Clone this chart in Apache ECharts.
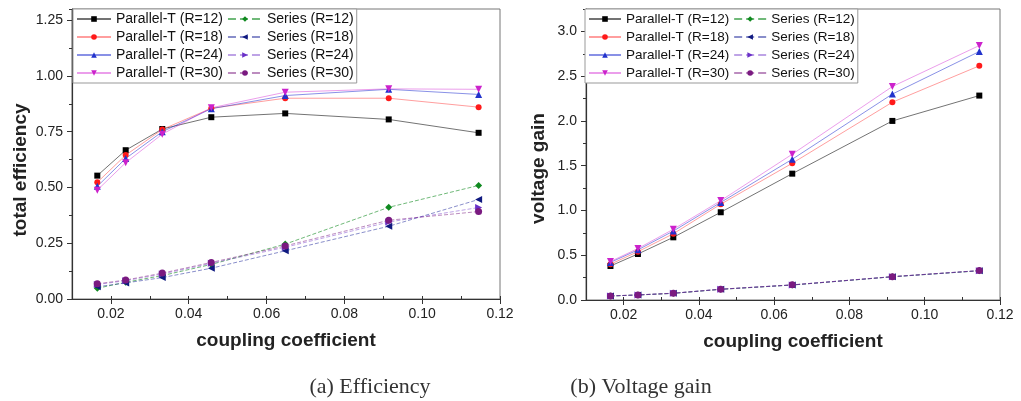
<!DOCTYPE html>
<html><head><meta charset="utf-8">
<script src="https://cdn.jsdelivr.net/npm/echarts@6/dist/echarts.min.js"></script>
<style>html,body{margin:0;padding:0;background:#fff}#c{width:1021px;height:401px}</style>
</head><body><div id="c"></div>
<script>
// ---- data ----
const coupling = [0.0165, 0.0238, 0.0332, 0.0458, 0.0648, 0.0914, 0.1145];
const names = ['Parallel-T (R=12)','Parallel-T (R=18)','Parallel-T (R=24)','Parallel-T (R=30)',
               'Series (R=12)','Series (R=18)','Series (R=24)','Series (R=30)'];
// total efficiency
const effParallel12 = [0.553, 0.667, 0.762, 0.815, 0.832, 0.805, 0.745];
const effParallel18 = [0.523, 0.645, 0.760, 0.855, 0.900, 0.900, 0.860];
const effParallel24 = [0.505, 0.630, 0.750, 0.853, 0.912, 0.940, 0.917];
const effParallel30 = [0.488, 0.611, 0.739, 0.857, 0.927, 0.942, 0.940];
const effSeries12   = [0.048, 0.075, 0.105, 0.155, 0.246, 0.411, 0.509];
const effSeries18   = [0.055, 0.072, 0.096, 0.138, 0.216, 0.326, 0.446];
const effSeries24   = [0.065, 0.082, 0.112, 0.160, 0.232, 0.345, 0.410];
const effSeries30   = [0.068, 0.085, 0.116, 0.164, 0.238, 0.353, 0.392];
// voltage gain
const gainParallel12 = [0.38, 0.514, 0.70, 0.98, 1.411, 2.00, 2.283];
const gainParallel18 = [0.40, 0.540, 0.74, 1.07, 1.527, 2.209, 2.615];
const gainParallel24 = [0.42, 0.560, 0.77, 1.09, 1.572, 2.300, 2.775];
const gainParallel30 = [0.43, 0.575, 0.79, 1.11, 1.628, 2.384, 2.842];
const gainSeries12   = [0.044, 0.056, 0.074, 0.119, 0.167, 0.259, 0.326];
const gainSeries18   = [0.045, 0.056, 0.075, 0.120, 0.168, 0.260, 0.327];
const gainSeries24   = [0.045, 0.057, 0.075, 0.120, 0.168, 0.260, 0.328];
const gainSeries30   = [0.046, 0.057, 0.076, 0.121, 0.169, 0.261, 0.329];
// tick labels
const xTicks = [0.02, 0.04, 0.06, 0.08, 0.10, 0.12];
const effTicks = [0, 0.25, 0.5, 0.75, 1.0, 1.25];
const gainTicks = [0, 0.5, 1.0, 1.5, 2.0, 2.5, 3.0];

const effData = [effParallel12, effParallel18, effParallel24, effParallel30, effSeries12, effSeries18, effSeries24, effSeries30];
const gainData = [gainParallel12, gainParallel18, gainParallel24, gainParallel30, gainSeries12, gainSeries18, gainSeries24, gainSeries30];

// ---- styles ----
const FONT = '"Liberation Sans", Arial, sans-serif';
const sty = [
  {c:'#000000', l:'rgba(0,0,0,0.55)',       s:'rect',     r:0,   z:6, d:'solid'},
  {c:'#ff1a1a', l:'rgba(255,40,40,0.45)',   s:'circle',   r:0,   z:6, d:'solid'},
  {c:'#2233cc', l:'rgba(40,55,210,0.55)',   s:'triangle', r:0,   z:7, d:'solid'},
  {c:'#cc22cc', l:'rgba(210,40,210,0.45)',  s:'triangle', r:180, z:7, d:'solid'},
  {c:'#108a20', l:'rgba(16,138,32,0.6)',    s:'diamond',  r:0,   z:7, d:'dashed'},
  {c:'#101a80', l:'rgba(20,30,150,0.5)',    s:'triangle', r:90,  z:7, d:'dashed'},
  {c:'#6a30c8', l:'rgba(110,50,200,0.45)',  s:'triangle', r:-90, z:7, d:'dashed'},
  {c:'#7a1a80', l:'rgba(122,26,128,0.5)',   s:'circle',   r:0,   z:7, d:'dashed'}
];

function mkSeries(dataSets, xi, yi) {
  return dataSets.map((vals, i) => ({
    name: names[i], type: 'line', xAxisIndex: xi, yAxisIndex: yi,
    data: coupling.map((x, j) => [x, vals[j]]),
    symbol: sty[i].s, symbolRotate: sty[i].r, symbolSize: sty[i].z,
    itemStyle: {color: sty[i].c},
    lineStyle: {color: sty[i].l, width: 1, type: sty[i].d},
    emphasis: {disabled: true}, animation: false
  }));
}

const titleStyle = {fontFamily: FONT, fontSize: 19, fontWeight: 'bold', color: '#222'};

function mainX(grid) {
  return {
    gridIndex: grid, type: 'value', position: 'bottom', min: 0.01, max: 0.12, interval: 0.01,
    axisLine: {lineStyle: {color: '#333', width: 1.2}},
    axisTick: {customValues: xTicks, length: 5, lineStyle: {color: '#333'}},
    axisLabel: {customValues: xTicks, formatter: v => v.toFixed(2), margin: 8,
                fontFamily: FONT, fontSize: 14, color: '#222'},
    splitLine: {show: false},
    name: 'coupling coefficient', nameLocation: 'middle', nameGap: 32,
    nameTextStyle: titleStyle
  };
}
function ghostX(grid) {
  return {
    gridIndex: grid, type: 'value', position: 'bottom', min: 0.01, max: 0.12, interval: 0.01,
    axisLine: {show: false}, axisLabel: {show: false}, splitLine: {show: false},
    axisTick: {length: 3, inside: true, lineStyle: {color: '#333'}}
  };
}
function mainY(grid, max, step, ticks, dec, name, pad) {
  return {
    gridIndex: grid, type: 'value', position: 'left', min: 0, max: max, interval: step,
    axisLine: {show: true, lineStyle: {color: '#333', width: 1.2}},
    axisTick: {show: true, customValues: ticks, length: 5, lineStyle: {color: '#333'}},
    axisLabel: {customValues: ticks, formatter: v => v.toFixed(dec), margin: 9,
                fontFamily: FONT, fontSize: 14, color: '#222'},
    splitLine: {show: false},
    name: name, nameLocation: 'middle', nameGap: pad[0],
    nameTextStyle: Object.assign({}, titleStyle, {padding: [0, pad[1], 0, 0]})
  };
}
function ghostY(grid, max, step) {
  return {
    gridIndex: grid, type: 'value', position: 'left', min: 0, max: max, interval: step,
    axisLine: {show: false}, axisLabel: {show: false}, splitLine: {show: false},
    axisTick: {show: true, length: 3, lineStyle: {color: '#333'}}
  };
}
function mkLegend(left, iw, fs) {
  return {
    left: left, top: 9, orient: 'vertical', height: 68,
    itemWidth: iw, itemHeight: 7, itemGap: 4, padding: [3, 3, 3, 3],
    borderColor: '#999', borderWidth: 1, backgroundColor: '#fff',
    textStyle: {fontFamily: FONT, fontSize: fs, color: '#111', lineHeight: 14},
    data: names, selectedMode: false
  };
}

const chart = echarts.init(document.getElementById('c'), null, {renderer: 'canvas'});
chart.setOption({
  animation: false,
  backgroundColor: '#fff',
  grid: [
    {left: 72, top: 9, width: 428, height: 290, show: true, borderColor: '#777', borderWidth: 1},
    {left: 586, top: 9, width: 414, height: 291, show: true, borderColor: '#777', borderWidth: 1}
  ],
  xAxis: [mainX(0), ghostX(0), mainX(1), ghostX(1)],
  yAxis: [
    mainY(0, 1.3, 0.125, effTicks, 2, 'total efficiency', [42, 32]), ghostY(0, 1.3, 0.125),
    mainY(1, 3.25, 0.25, gainTicks, 1, 'voltage gain', [38, 28]), ghostY(1, 3.25, 0.25)
  ],
  legend: [mkLegend(73, 34, 14), mkLegend(585, 32, 13.5)],
  series: [].concat(mkSeries(effData, 0, 0), mkSeries(gainData, 2, 2)),
  graphic: [
    {type: 'text', x: 370, y: 387, style: {text: '(a) Efficiency', x: 0, y: 0, align: 'center', verticalAlign: 'middle',
      textAlign: 'center', textVerticalAlign: 'middle', font: '22px "Liberation Serif", serif', fill: '#333'}},
    {type: 'text', x: 641, y: 387, style: {text: '(b) Voltage gain', x: 0, y: 0, align: 'center', verticalAlign: 'middle',
      textAlign: 'center', textVerticalAlign: 'middle', font: '22px "Liberation Serif", serif', fill: '#333'}}
  ]
});
</script></body></html>
